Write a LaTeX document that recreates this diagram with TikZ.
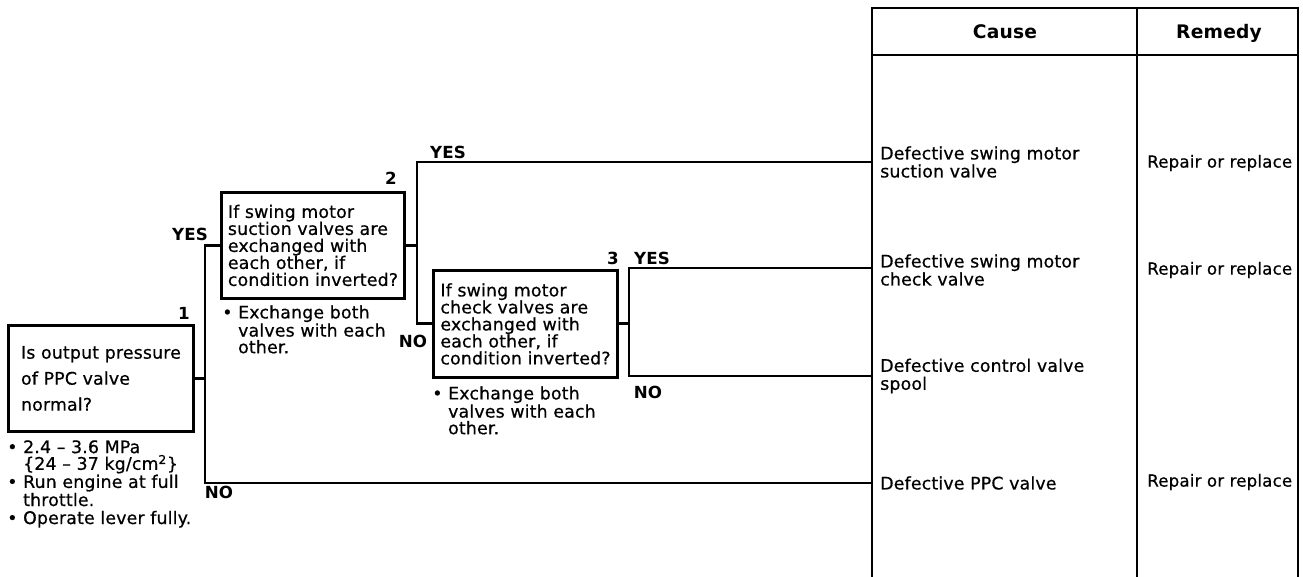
\documentclass[tikz,border=0pt]{standalone}
\usepackage{fontspec}
\setmainfont{DejaVu Sans}[LetterSpace=1, UprightFeatures={FakeBold=0.6}]
\tikzset{
  question/.style={draw, line width=2.2pt, anchor=north west, align=left, inner ysep=0pt,
    font=\fontsize{13}{12.75}\selectfont},
  note/.style={anchor=north west, align=left, inner sep=0pt, font=\fontsize{13}{12.5}\selectfont},
  answer/.style={inner sep=0pt, font=\fontsize{12.5}{12.5}\selectfont\bfseries},
  cause/.style={anchor=west, align=left, inner xsep=6pt, inner ysep=0pt, font=\fontsize{13}{13.5}\selectfont},
  remedy/.style={anchor=west, inner sep=0pt, font=\fontsize{12.5}{12.5}\selectfont},
  header/.style={anchor=base, inner sep=0pt, font=\fontsize{14}{14}\selectfont\bfseries},
  wire/.style={line width=2.2pt},
}
\begin{document}
\begin{tikzpicture}[x=0.75pt, y=-0.75pt]
    \useasboundingbox (0,0) rectangle (1303,577);
    % Tabla
    \draw[wire] (872,577) -- (872,8) -- (1298,8) -- (1298,577);
    \draw[wire] (1137,8) -- (1137,577);
    \draw[wire] (872,55) -- (1298,55);
    \node[header] (cause) at (1005,39) {Cause};
    \node[header] (remedy) at (1219,39) {Remedy};
    % Causas
    \node[cause] (c1) at (872,162) {Defective swing motor\\suction valve};
    \node[cause] (c2) at (872,270) {Defective swing motor\\check valve};
    \node[cause] (c3) at (872,376) {Defective control valve\\spool};
    \node[cause] (c4) at (872,483) {Defective PPC valve};
    % Remedios
    \node[remedy] (r1) at (1147,163) {Repair or replace};
    \node[remedy] (r2) at (1147,270) {Repair or replace};
    \node[remedy] (r4) at (1147,482) {Repair or replace};
    % Preguntas
    \node[question, minimum width=138.75pt, minimum height=79.5pt,
      font=\fontsize{13}{19.5}\selectfont] (q1) at (7,324)
      {Is output pressure\\of PPC valve\\normal?};
    \node[question, minimum width=137.25pt, minimum height=79.5pt] (q2) at (220,191)
      {If swing motor\\suction valves are\\exchanged with\\each other, if\\condition inverted?};
    \node[question, minimum width=138pt, minimum height=80.25pt] (q3) at (432,269)
      {If swing motor\\check valves are\\exchanged with\\each other, if\\condition inverted?};
    % Notas
    \node[note] (n1) at (7,440) {• 2.4 – 3.6 MPa\\\phantom{• }\{24 – 37 kg/cm\textsuperscript{2}\}\\
      • Run engine at full\\\phantom{• }throttle.\\[1pt]• Operate lever fully.};
    \node[note] (n2) at (222,305) {• Exchange both\\\phantom{• }valves with each\\\phantom{• }other.};
    \node[note] (n3) at (432,386) {• Exchange both\\\phantom{• }valves with each\\\phantom{• }other.};
    % Numeros y respuestas
    \node[answer] (k1) at (184,313) {1};
    \node[answer] (k2) at (391,178) {2};
    \node[answer] (k3) at (613,258) {3};
    \node[answer] (y1) at (190,234) {YES};
    \node[answer] (y2) at (448,152) {YES};
    \node[answer] (y3) at (652,258) {YES};
    \node[answer] (o1) at (219,492) {NO};
    \node[answer] (o2) at (413,341) {NO};
    \node[answer] (o3) at (648,392) {NO};
    % Conexiones
    \coordinate (j1) at (205,483);
    \coordinate (j2) at (417,162);
    \coordinate (j3) at (629,268);
    \draw[wire] (q2.west) -| (j1) -- (c4.west);
    \draw[wire] (q1.east) -- (q1.east -| j1);
    \draw[wire] (c1.west) -- (j2) |- (q3.west);
    \draw[wire] (q2.east) -- (q2.east -| j2);
    \draw[wire] (c2.west |- j3) -- (j3) |- (c3.west);
    \draw[wire] (q3.east) -- (q3.east -| j3);
\end{tikzpicture}
\end{document}
